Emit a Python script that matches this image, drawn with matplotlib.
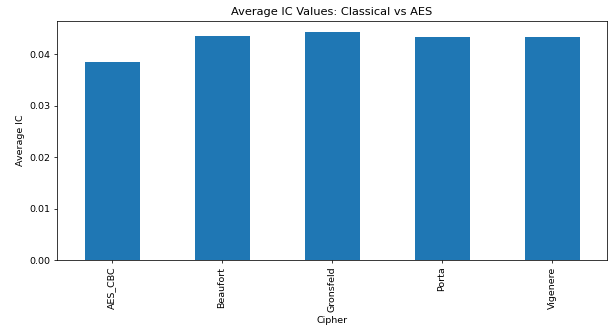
import matplotlib
matplotlib.use("Agg")
import matplotlib.pyplot as plt
import numpy as np

# Average index of coincidence per cipher
ciphers = ["AES_CBC", "Beaufort", "Gronsfeld", "Porta", "Vigenere"]
avg_ic = [0.03838, 0.04343, 0.04421, 0.04330, 0.04330]

DPI = 68
fig = plt.figure(figsize=(610 / DPI, 331 / DPI), dpi=DPI)
ax = fig.add_axes([57 / 610, 71 / 331, 550 / 610, 239 / 331])

x = np.arange(len(ciphers))
ax.bar(x, avg_ic, width=0.5, color="#1f77b4")
ax.set_xlim(-0.5, len(ciphers) - 0.5)
ax.set_ylim(0, max(avg_ic) * 1.05)
ax.set_xticks(x)
ax.set_xticklabels(ciphers, rotation=90)
ax.set_yticks([0.0, 0.01, 0.02, 0.03, 0.04])
ax.set_yticklabels(["0.00", "0.01", "0.02", "0.03", "0.04"])
ax.set_title("Average IC Values: Classical vs AES")
ax.set_xlabel("Cipher")
ax.set_ylabel("Average IC")

fig.savefig("out.png", dpi=DPI)
